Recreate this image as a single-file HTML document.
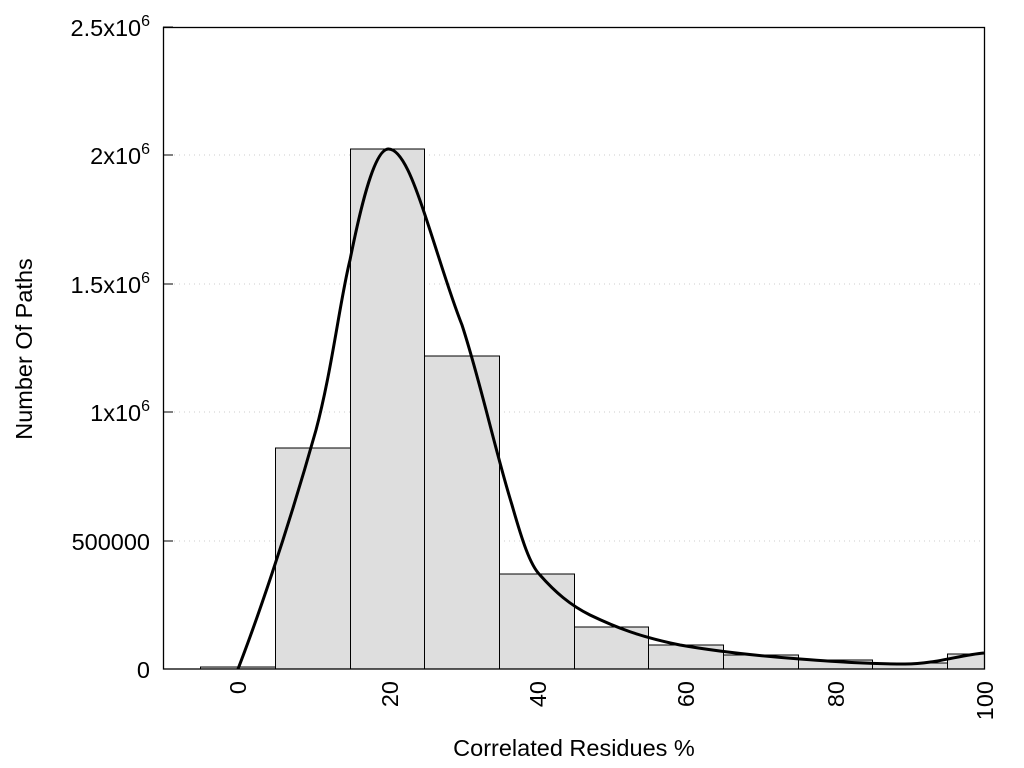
<!DOCTYPE html>
<html><head><style>body{margin:0;background:#fff}svg{display:block}text{font-family:"Liberation Sans",sans-serif;font-size:23.5px;fill:#000}</style></head>
<body>
<svg width="1024" height="768" xmlns="http://www.w3.org/2000/svg">
<g stroke="#ccc" stroke-width="1" stroke-dasharray="1,4">
<line x1="174" y1="541" x2="984" y2="541"/><line x1="174" y1="412" x2="984" y2="412"/>
<line x1="174" y1="284" x2="984" y2="284"/><line x1="174" y1="155" x2="984" y2="155"/>
</g>
<g fill="#dedede" stroke="#000" stroke-width="1">
<rect x="200.5" y="667" width="75" height="2"/>
<rect x="275.5" y="448" width="75" height="221"/>
<rect x="350.5" y="149" width="74" height="520"/>
<rect x="424.5" y="356" width="75" height="313"/>
<rect x="499.5" y="574" width="75" height="95"/>
<rect x="574.5" y="627" width="74" height="42"/>
<rect x="648.5" y="645" width="75" height="24"/>
<rect x="723.5" y="655" width="75" height="14"/>
<rect x="798.5" y="660" width="74" height="9"/>
<rect x="872.5" y="663" width="75" height="6"/>
<rect x="947.5" y="654" width="37" height="15"/>
</g>
<path d="M238,669 C255,625 285,540 316,430 C332,370 340,300 350,260 C362,200 375,150 388,149 C402,148 415,185 425,215 C440,260 450,295 462,325 C480,380 495,450 512,505 C522,540 530,565 540,575 C555,592 570,605 590,615 C615,627 640,637 680,645 C720,652 760,656 800,659 C840,662 870,664 905,664 C935,664 960,655 984,653" fill="none" stroke="#000" stroke-width="3"/>
<rect x="163.5" y="27.5" width="821" height="641.5" fill="none" stroke="#000" stroke-width="1.3"/>
<g stroke="#000" stroke-width="1">
<line x1="163" y1="541" x2="173" y2="541"/><line x1="163" y1="412" x2="173" y2="412"/>
<line x1="163" y1="284" x2="173" y2="284"/><line x1="163" y1="155" x2="173" y2="155"/>
<line x1="163" y1="27" x2="173" y2="27"/>
</g>
<g text-anchor="end">
<text x="150" y="678">0</text>
<text x="150" y="550">500000</text>
<text x="150" y="421">1x10<tspan dy="-10" font-size="16">6</tspan></text>
<text x="150" y="293">1.5x10<tspan dy="-10" font-size="16">6</tspan></text>
<text x="150" y="164">2x10<tspan dy="-10" font-size="16">6</tspan></text>
<text x="150" y="36">2.5x10<tspan dy="-10" font-size="16">6</tspan></text>
</g>
<g text-anchor="end">
<text transform="translate(246,681) rotate(-90)">0</text>
<text transform="translate(398,681) rotate(-90)">20</text>
<text transform="translate(546,681) rotate(-90)">40</text>
<text transform="translate(694,681) rotate(-90)">60</text>
<text transform="translate(844,681) rotate(-90)">80</text>
<text transform="translate(993,681) rotate(-90)">100</text>
</g>
<text x="574" y="756" text-anchor="middle">Correlated Residues %</text>
<text transform="translate(32,349) rotate(-90)" text-anchor="middle">Number Of Paths</text>
</svg>
</body></html>
